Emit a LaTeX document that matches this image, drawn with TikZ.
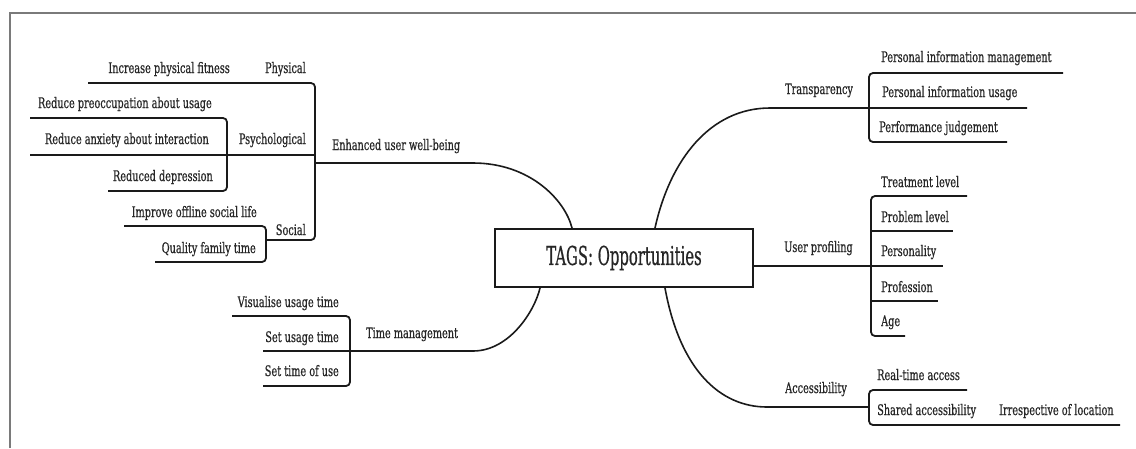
\documentclass[tikz,border=0pt]{standalone}
\usepackage{fontspec}
\setmainfont{DejaVu Serif}
\newfontfamily\labelfont[FakeStretch=0.67,FakeBold=0.6]{DejaVu Serif}
\newfontfamily\titlefont[FakeStretch=0.57,FakeBold=0.6]{DejaVu Serif}
\definecolor{textgray}{HTML}{262626}
\definecolor{linec}{HTML}{1A1A1A}
\definecolor{framec}{HTML}{7A7A7A}
\tikzset{
  lab/.style={inner sep=0pt, text=textgray, font=\labelfont\fontsize{14.5}{17}\selectfont},
  txtL/.style={lab, anchor=base east},
  txtR/.style={lab, anchor=base west},
  wire/.style={draw=linec, line width=1.8pt, rounded corners=4pt},
  curvewire/.style={draw=linec, line width=1.6pt},
  centerbox/.style={draw=linec, line width=2pt, minimum width=258pt, minimum height=58pt,
    inner sep=0pt, text=textgray, font=\titlefont\fontsize{26}{30}\selectfont}
}
\begin{document}
\begin{tikzpicture}[x=1pt, y=-1pt]
\useasboundingbox (0,0) rectangle (1136,448);
% frame
\draw[framec, line width=1.8pt] (10,448) -- (10,13) -- (1136,13);

% central topic
\node[centerbox] (root) at (624,258) {TAGS: Opportunities};

% ---------- left: enhanced user well-being ----------
\node[txtR] (wb) at (332,150) {Enhanced user well-being};
\node[txtL] (phys) at (306,73) {Physical};
\node[txtL] (fit) at (230,73) {Increase physical fitness};
\node[txtL] (psy) at (306,144) {Psychological};
\node[txtL] (pre) at (212,108) {Reduce preoccupation about usage};
\node[txtL] (anx) at (209,144) {Reduce anxiety about interaction};
\node[txtL] (dep) at (213,181) {Reduced depression};
\node[txtL] (soc) at (306,235) {Social};
\node[txtL] (off) at (257,217) {Improve offline social life};
\node[txtL] (fam) at (256,253) {Quality family time};

\coordinate (wbBar) at (316,163);
\draw[curvewire] (root.north west -| 572,0) .. controls (565,200) and (530,163) .. (473,163) -- (wbBar);
\draw[wire] (88,83) -- (315,83) -- (315,240) -- (266,240);
\draw[wire] (30,155) -- (315,155);
\draw[wire] (30,118) -- (227,118) -- (227,191) -- (108,191);
\draw[wire] (124,226) -- (266,226) -- (266,262) -- (155,262);

% ---------- left: time management ----------
\node[txtR] (tm) at (366,338) {Time management};
\node[txtL] (vis) at (339,307) {Visualise usage time};
\node[txtL] (set) at (339,342) {Set usage time};
\node[txtL] (stu) at (339,376) {Set time of use};

\draw[curvewire] (root.south west -| 540,0) .. controls (535,310) and (510,351) .. (473,351) -- (263,351);
\draw[wire] (232,316) -- (350,316) -- (350,386) -- (263,386);

% ---------- right: transparency ----------
\node[txtR] (tr) at (785,94) {Transparency};
\node[txtR] (pim) at (881,62) {Personal information management};
\node[txtR] (piu) at (882,97) {Personal information usage};
\node[txtR] (pj) at (879,132) {Performance judgement};

\draw[curvewire] (root.north west -| 655,0) .. controls (670,160) and (710,108) .. (770,108) -- (1027,108);
\draw[wire] (1063,73) -- (869,73) -- (869,142) -- (1007,142);

% ---------- right: user profiling ----------
\node[txtR] (up) at (784,252) {User profiling};
\node[txtR] (trl) at (881,187) {Treatment level};
\node[txtR] (prl) at (881,222) {Problem level};
\node[txtR] (per) at (881,256) {Personality};
\node[txtR] (pro) at (881,292) {Profession};
\node[txtR] (age) at (881,326) {Age};

\draw[curvewire] (root.east |- 0,266) -- (943,266);
\draw[wire] (967,196) -- (871,196) -- (871,336) -- (905,336);
\draw[wire] (871,231) -- (953,231);
\draw[wire] (871,301) -- (938,301);

% ---------- right: accessibility ----------
\node[txtR] (acc) at (785,393) {Accessibility};
\node[txtR] (rta) at (877,380) {Real-time access};
\node[txtR] (sha) at (877,415) {Shared accessibility};
\node[txtR] (irr) at (999,415) {Irrespective of location};

\draw[curvewire] (root.south west -| 665,0) .. controls (680,370) and (720,407) .. (767,407) -- (869,407);
\draw[wire] (967,390) -- (869,390) -- (869,425) -- (1120,425);
\end{tikzpicture}
\end{document}
